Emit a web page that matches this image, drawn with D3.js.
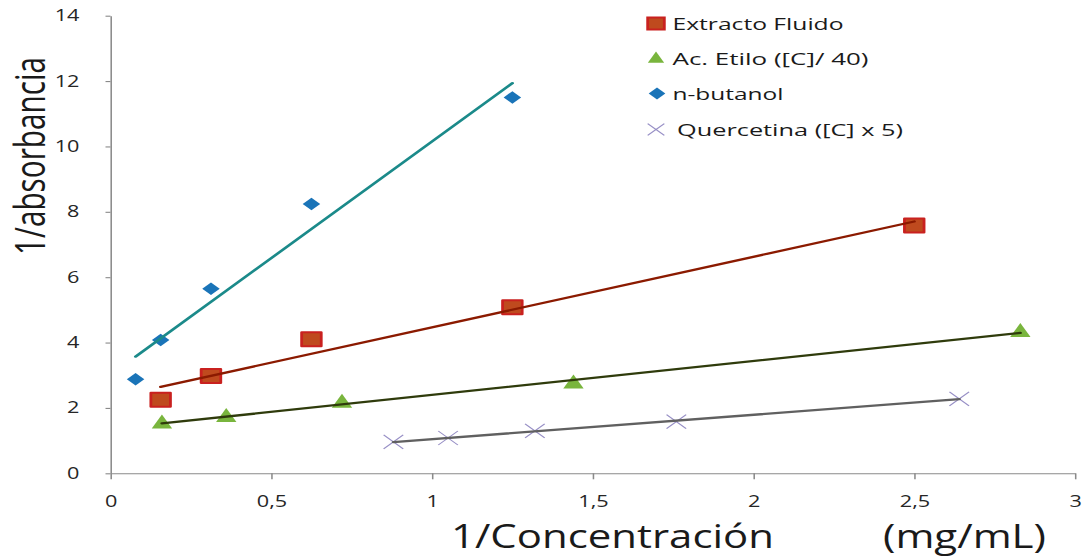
<!DOCTYPE html>
<html>
<head>
<meta charset="utf-8">
<script src="https://cdn.jsdelivr.net/npm/d3@7/dist/d3.min.js"></script>
<style>
  html, body { margin: 0; padding: 0; background: #ffffff; }
  svg { display: block; }
</style>
</head>
<body>
<svg id="chart"></svg>
<script>
// ---- data -------------------------------------------------------------
const extractoX   = [0.156, 0.3125, 0.625, 1.25, 2.5];
const extractoY   = [2.25, 2.98, 4.10, 5.08, 7.58];
const etiloX      = [0.16, 0.36, 0.72, 1.44, 2.83];
const etiloY      = [1.53, 1.73, 2.17, 2.76, 4.33];
const butanolX    = [0.078, 0.156, 0.3125, 0.625, 1.25];
const butanolY    = [2.88, 4.08, 5.65, 8.24, 11.5];
const quercetinaX = [0.88, 1.05, 1.32, 1.76, 2.64];
const quercetinaY = [0.96, 1.08, 1.30, 1.58, 2.28];

const seriesNames = ["Extracto Fluido", "Ac. Etilo ([C]/ 40)", "n-butanol", "Quercetina ([C] x 5)"];
const xTickValues = [0, 0.5, 1, 1.5, 2, 2.5, 3];
const xTickLabels = ["0", "0,5", "1", "1,5", "2", "2,5", "3"];
const yTickValues = [0, 2, 4, 6, 8, 10, 12, 14];
const yTickLabels = ["0", "2", "4", "6", "8", "10", "12", "14"];
const xTitle = "1/Concentración";
const xUnit = "(mg/mL)";
const yTitle = "1/absorbancia";

// ---- layout -----------------------------------------------------------
// The drawing is laid out on a horizontally stretched canvas (K:1).
const WIDTH = 1087, HEIGHT = 557, K = 1.4;
const IW = WIDTH / K;
const px = v => v / K;           // screen x -> inner x

const svg = d3.select("#chart")
  .attr("width", WIDTH)
  .attr("height", HEIGHT)
  .attr("viewBox", `0 0 ${IW} ${HEIGHT}`)
  .attr("preserveAspectRatio", "none");

svg.append("rect").attr("width", IW).attr("height", HEIGHT).attr("fill", "#ffffff");

const x = d3.scaleLinear().domain([0, 3]).range([px(110.5), px(1075)]);
const y = d3.scaleLinear().domain([0, 14]).range([473.3, 15.7]);

const FONT = "'Open Sans', 'DejaVu Sans', sans-serif";
const AXIS_COLOR = "#8a8a8a";

// ---- axes -------------------------------------------------------------
const yAxis = d3.axisLeft(y)
  .tickValues(yTickValues)
  .tickFormat((d, i) => yTickLabels[i])
  .tickSizeInner(px(5)).tickSizeOuter(0)
  .tickPadding(px(26));
const gy = svg.append("g").attr("transform", `translate(${x(0)},0)`).call(yAxis);

const xAxis = d3.axisBottom(x)
  .tickValues(xTickValues)
  .tickFormat((d, i) => xTickLabels[i])
  .tickSizeInner(6).tickSizeOuter(0)
  .tickPadding(17);
const gx = svg.append("g").attr("transform", `translate(0,${y(0)})`).call(xAxis);

[gx, gy].forEach(g => {
  g.select(".domain").attr("stroke", AXIS_COLOR).attr("stroke-width", 1.1);
  g.selectAll(".tick line").attr("stroke", AXIS_COLOR).attr("stroke-width", 1.1);
  g.selectAll(".tick text")
    .attr("fill", "#262626")
    .style("font-family", FONT)
    .style("font-size", "15.5px");
});

// ---- markers ----------------------------------------------------------
const shapes = {
  square:   s => `M${-s/2},${-s/2}H${s/2}V${s/2}H${-s/2}Z`,
  triangle: s => `M0,${-s*0.62}L${s*0.52},${s*0.38}L${-s*0.52},${s*0.38}Z`,
  diamond:  s => `M0,${-s/2}L${s/2},0L0,${s/2}L${-s/2},0Z`,
  cross:    s => `M${-s/2},${-s/2}L${s/2},${s/2}M${s/2},${-s/2}L${-s/2},${s/2}`
};

const series = [
  { name: seriesNames[0], xs: extractoX, ys: extractoY, shape: "square", size: 14,
    fill: "#bf4a1e", stroke: "#c9211f", sw: 2, line: "#8b1a00" },
  { name: seriesNames[1], xs: etiloX, ys: etiloY, shape: "triangle", size: 14,
    fill: "#79b53d", stroke: "none", sw: 0, line: "#2f3b0c" },
  { name: seriesNames[2], xs: butanolX, ys: butanolY, shape: "diamond", size: 12.5,
    fill: "#1a74b8", stroke: "none", sw: 0, line: "#1b8a8a" },
  { name: seriesNames[3], xs: quercetinaX, ys: quercetinaY, shape: "cross", size: 14,
    fill: "none", stroke: "#9890c6", sw: 1, line: "#606060" }
];

// least-squares linear trend for a series
function linearFit(xs, ys) {
  const n = xs.length;
  const mx = d3.mean(xs), my = d3.mean(ys);
  let sxy = 0, sxx = 0;
  for (let i = 0; i < n; i++) {
    sxy += (xs[i] - mx) * (ys[i] - my);
    sxx += (xs[i] - mx) * (xs[i] - mx);
  }
  const slope = sxy / sxx;
  return { slope, intercept: my - slope * mx };
}

const plot = svg.append("g");

// markers first, trend lines above them
series.forEach(s => {
  plot.append("g").selectAll("path")
    .data(s.xs.map((v, i) => [v, s.ys[i]]))
    .join("path")
    .attr("transform", d => `translate(${x(d[0])},${y(d[1])})`)
    .attr("d", shapes[s.shape](s.size))
    .attr("fill", s.fill)
    .attr("stroke", s.stroke)
    .attr("stroke-width", s.sw)
    .attr("stroke-linejoin", "round");
});

const lineGen = d3.line().x(d => x(d[0])).y(d => y(d[1]));
series.forEach(s => {
  const fit = linearFit(s.xs, s.ys);
  const [x0, x1] = d3.extent(s.xs);
  plot.append("path")
    .datum([[x0, fit.intercept + fit.slope * x0], [x1, fit.intercept + fit.slope * x1]])
    .attr("d", lineGen)
    .attr("fill", "none")
    .attr("stroke", s.line)
    .attr("stroke-width", 2.3)
    .attr("stroke-linecap", "round");
});

// ---- legend -----------------------------------------------------------
const legendRows = [
  { y: 30,  mx: 656, tx: 672.5, len: 171, scale: 0.85 },
  { y: 65,  mx: 656, tx: 672.5, len: 196, scale: 0.8 },
  { y: 100, mx: 657, tx: 672.5, len: 111, scale: 0.95 },
  { y: 136, mx: 656, tx: 677,   len: 226, scale: 0.85 }
];
const legend = svg.append("g");
series.forEach((s, i) => {
  const r = legendRows[i];
  legend.append("path")
    .attr("transform", `translate(${px(r.mx)},${r.y - 6.5})`)
    .attr("d", shapes[s.shape](s.size * r.scale))
    .attr("fill", s.fill)
    .attr("stroke", s.stroke)
    .attr("stroke-width", s.sw);
  legend.append("text")
    .attr("x", px(r.tx))
    .attr("y", r.y)
    .attr("textLength", px(r.len))
    .attr("lengthAdjust", "spacingAndGlyphs")
    .attr("fill", "#1a1a1a")
    .style("font-family", FONT)
    .style("font-size", "16.5px")
    .text(s.name);
});

// ---- axis titles ------------------------------------------------------
svg.append("text")
  .attr("transform", `translate(${px(45)},156) rotate(-90)`)
  .attr("text-anchor", "middle")
  .attr("textLength", 198)
  .attr("lengthAdjust", "spacingAndGlyphs")
  .attr("fill", "#1a1a1a")
  .style("font-family", FONT)
  .style("font-size", "30px")
  .text(yTitle);

svg.append("text")
  .attr("x", px(451))
  .attr("y", 548)
  .attr("textLength", px(323))
  .attr("lengthAdjust", "spacingAndGlyphs")
  .attr("fill", "#1a1a1a")
  .style("font-family", FONT)
  .style("font-size", "32px")
  .text(xTitle);

svg.append("text")
  .attr("x", px(883))
  .attr("y", 548)
  .attr("textLength", px(163))
  .attr("lengthAdjust", "spacingAndGlyphs")
  .attr("fill", "#1a1a1a")
  .style("font-family", FONT)
  .style("font-size", "32px")
  .text(xUnit);
</script>
</body>
</html>
